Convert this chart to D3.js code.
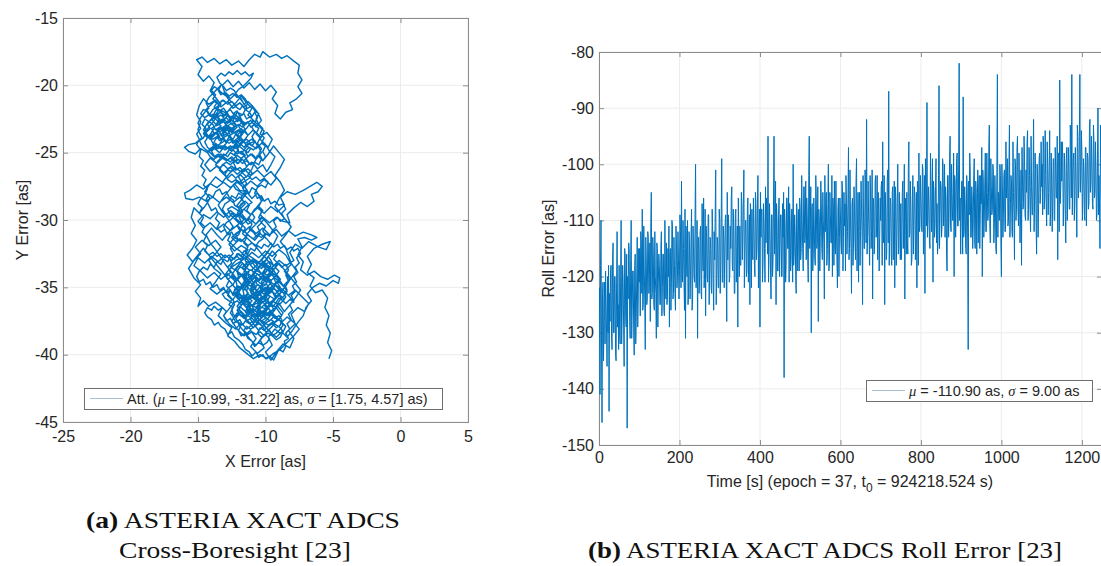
<!DOCTYPE html>
<html>
<head>
<meta charset="utf-8">
<script src="https://cdn.jsdelivr.net/npm/d3@7"></script>
<style>
  body { margin: 0; background: #fff; }
  svg { display: block; }
</style>
</head>
<body>
<svg id="fig" width="1101" height="566"></svg>
<script>
// ---------- Panel (a): cross-boresight attitude error trajectory [as] ----------
const walkSE = [[-5.3,-40.3],[-5.1,-39.7],[-5.4,-39.1],[-5.2,-38.4],[-5.5,-37.8],[-5.3,-37.1],[-5.6,-36.5],[-5.4,-35.8],[-5.8,-35.2],[-6.3,-35.4],[-6.7,-34.9],[-6.4,-34.3],[-6.9,-33.9],[-6.6,-33.3],[-6.9,-32.7],[-6.4,-32.1],[-5.8,-31.8],[-5.2,-31.6],[-5.5,-32.2],[-6.1,-32.0],[-6.8,-31.6],[-7.3,-32.1],[-7.8,-31.8],[-8.2,-32.4],[-7.9,-33.0],[-8.5,-33.4],[-9.0,-33.0],[-9.5,-33.5],[-9.2,-34.1],[-9.7,-34.6],[-10.2,-34.2],[-10.0,-33.6],[-10.5,-33.2],[-11.0,-33.7],[-10.7,-34.4],[-11.1,-34.9],[-10.8,-35.5],[-10.2,-35.1],[-9.7,-35.7],[-10.0,-36.3],[-9.6,-36.8],[-9.1,-36.4],[-8.7,-36.9],[-9.0,-37.4],[-8.5,-37.9],[-8.8,-38.5],[-9.3,-38.1],[-9.8,-38.7],[-9.5,-39.3],[-10.0,-39.8],[-9.6,-40.4],[-9.2,-39.8],[-8.7,-39.2],[-8.2,-39.5],[-7.9,-38.8],[-8.3,-38.2],[-7.8,-37.7],[-8.1,-37.0],[-7.6,-36.5],[-7.1,-36.8],[-6.8,-36.2],[-7.3,-35.7]];
const walkCore1 = [[-7.8,-35.2],[-8.3,-35.6],[-8.8,-35.1],[-9.3,-35.5],[-9.8,-35.0],[-10.3,-35.4],[-10.8,-35.9],[-11.3,-35.5],[-11.7,-36.1],[-11.2,-36.7],[-11.6,-37.3],[-12.1,-36.9],[-12.5,-37.5],[-12.1,-38.1],[-11.6,-38.6],[-11.1,-38.2],[-10.7,-38.8],[-11.1,-39.4],[-10.6,-39.9],[-10.1,-39.5],[-10.4,-38.9],[-9.9,-38.4],[-10.3,-37.8],[-10.8,-37.3],[-10.4,-36.7],[-9.9,-37.1],[-9.4,-36.6],[-9.8,-36.0],[-10.3,-35.7],[-10.8,-35.1],[-11.4,-34.7],[-11.8,-34.1],[-12.3,-34.5],[-12.8,-34.0],[-13.3,-34.4],[-13.8,-33.9],[-14.3,-34.3],[-14.8,-33.8],[-15.3,-33.4],[-15.0,-32.8],[-14.5,-33.2],[-14.0,-32.7],[-13.5,-33.1],[-13.0,-32.6],[-12.5,-33.0],[-12.0,-32.5],[-11.5,-32.9],[-11.0,-32.4],[-10.5,-32.8],[-10.0,-32.3],[-9.5,-32.7],[-9.0,-32.2],[-8.5,-32.6],[-8.1,-33.3],[-8.6,-33.8],[-8.2,-34.4],[-8.7,-34.9],[-9.2,-34.4],[-9.6,-34.0],[-10.1,-34.5],[-10.6,-34.0],[-11.0,-34.5]];
const walkCore2 = [[-10.7,-35.0],[-11.1,-35.4],[-10.6,-35.8],[-10.9,-36.3],[-10.4,-36.1],[-10.0,-35.6],[-9.6,-35.2],[-9.9,-34.8],[-10.4,-34.7],[-10.8,-34.3],[-11.3,-34.0],[-11.7,-33.5],[-11.3,-33.1],[-10.9,-33.6],[-10.4,-33.9],[-10.0,-34.3],[-9.5,-34.9],[-9.1,-35.4],[-8.6,-35.9],[-9.0,-36.3],[-9.5,-36.0],[-10.0,-36.6],[-10.5,-36.4],[-11.0,-36.9],[-11.4,-36.5],[-11.0,-36.0],[-11.5,-35.6],[-12.0,-35.9],[-12.4,-35.4],[-12.0,-34.9],[-11.6,-35.2],[-11.2,-34.6],[-11.6,-34.2],[-12.1,-33.8],[-12.6,-33.5],[-12.2,-33.0],[-11.7,-32.8],[-11.3,-32.2],[-11.8,-31.9],[-12.3,-32.3],[-12.7,-31.8],[-12.3,-31.3],[-11.8,-31.6],[-11.3,-31.1],[-10.8,-31.5],[-10.4,-31.0],[-9.9,-31.4],[-9.5,-31.9],[-9.9,-32.5],[-10.3,-33.0],[-9.8,-33.4],[-9.3,-33.9],[-8.9,-34.4],[-9.4,-34.8],[-9.9,-35.3],[-10.3,-35.9],[-10.7,-36.5],[-10.2,-37.0],[-9.7,-37.5],[-9.3,-37.1]];
const walkBottom = [[-8.8,-37.6],[-8.4,-37.2],[-7.9,-37.6],[-7.5,-38.1],[-7.9,-38.6],[-8.4,-39.1],[-8.9,-39.6],[-9.4,-39.9],[-9.9,-40.3],[-10.4,-40.0],[-10.9,-40.3],[-11.4,-39.9],[-11.9,-39.5],[-12.3,-39.0],[-12.8,-38.6],[-12.5,-38.0],[-13.0,-37.6],[-13.5,-37.1],[-13.2,-36.5],[-13.7,-36.1],[-14.2,-36.4],[-14.6,-36.0],[-15.0,-36.4],[-14.8,-35.8],[-15.2,-35.3],[-14.8,-34.8],[-15.3,-34.3],[-15.7,-33.6],[-15.3,-33.0],[-14.8,-32.5],[-15.2,-32.0],[-14.7,-31.5],[-14.2,-31.9],[-13.7,-31.5],[-13.3,-32.0],[-13.7,-32.5],[-14.2,-33.0],[-13.8,-33.6],[-13.3,-34.0],[-13.7,-34.6],[-14.1,-35.1],[-13.6,-35.5],[-13.1,-35.1],[-12.7,-35.6],[-12.3,-36.1],[-12.7,-36.6],[-13.1,-37.1],[-12.7,-37.7],[-12.2,-38.1],[-11.8,-37.6],[-11.4,-38.1],[-10.9,-37.7],[-10.5,-38.2],[-10.1,-37.8],[-9.7,-38.3],[-9.2,-38.7],[-8.8,-38.3],[-8.4,-38.7],[-8.0,-38.2],[-7.6,-37.6]];
const walkEast = [[-7.2,-37.1],[-7.0,-36.5],[-6.6,-36.0],[-6.9,-35.5],[-6.5,-35.0],[-6.0,-34.7],[-5.5,-34.9],[-5.0,-34.5],[-4.6,-34.7],[-4.5,-34.3],[-4.9,-34.1],[-5.4,-34.4],[-5.9,-34.2],[-6.4,-33.8],[-6.9,-34.1],[-7.4,-33.7],[-7.2,-33.1],[-7.6,-32.6],[-7.3,-32.0],[-7.6,-31.4],[-7.1,-31.3],[-6.6,-31.5],[-6.2,-31.3],[-6.6,-31.1],[-7.2,-30.9],[-7.8,-31.2],[-8.3,-30.8],[-8.8,-31.2],[-9.2,-30.7],[-9.7,-31.1],[-10.2,-30.6],[-10.7,-31.0],[-11.2,-30.5],[-11.6,-30.9],[-12.1,-30.4],[-12.6,-30.8],[-13.1,-30.3],[-13.6,-30.7],[-14.1,-30.2],[-14.6,-30.6],[-15.0,-30.1],[-14.6,-29.6],[-14.1,-29.9],[-13.6,-29.4],[-13.1,-29.8],[-12.6,-29.3],[-12.1,-29.7],[-11.6,-29.2],[-11.1,-29.6],[-10.6,-29.1],[-10.1,-29.5],[-9.6,-29.0],[-9.1,-29.4],[-8.6,-28.9],[-8.9,-28.3],[-8.4,-27.9],[-7.8,-28.1],[-7.2,-27.8],[-6.7,-27.5],[-6.2,-27.2]];
const walkMid = [[-5.8,-27.5],[-6.1,-27.9],[-6.6,-28.1],[-6.4,-28.6],[-6.9,-29.0],[-7.4,-28.7],[-7.9,-29.1],[-8.4,-29.6],[-8.2,-30.2],[-8.7,-30.1],[-9.2,-29.8],[-9.7,-30.2],[-10.2,-29.8],[-10.7,-30.3],[-11.2,-29.9],[-11.7,-30.3],[-12.2,-29.9],[-12.0,-29.3],[-11.5,-28.8],[-11.9,-28.3],[-12.4,-28.7],[-12.9,-28.3],[-13.4,-28.7],[-13.9,-28.3],[-14.4,-28.6],[-14.9,-28.3],[-15.4,-28.5],[-15.9,-28.4],[-16.0,-28.0],[-15.6,-27.8],[-15.1,-27.4],[-14.6,-27.7],[-14.1,-27.3],[-13.6,-27.6],[-13.1,-27.2],[-12.6,-27.6],[-12.1,-27.2],[-11.6,-27.6],[-11.1,-27.1],[-10.6,-27.5],[-10.1,-27.0],[-9.6,-27.4],[-9.2,-26.9],[-9.6,-26.4],[-10.1,-26.8],[-10.6,-26.3],[-11.1,-26.7],[-11.6,-26.2],[-12.1,-26.6],[-12.6,-26.1],[-13.1,-26.5],[-13.6,-26.0],[-14.1,-26.4],[-14.5,-25.9],[-14.1,-25.4],[-13.6,-25.8],[-13.1,-25.3],[-12.6,-25.7],[-12.1,-25.2],[-11.6,-25.6]];
const walkUpper1 = [[-11.1,-25.1],[-10.7,-25.5],[-10.3,-25.0],[-10.6,-24.4],[-11.0,-24.0],[-11.5,-24.3],[-11.9,-23.8],[-12.4,-24.2],[-12.8,-23.7],[-13.3,-24.0],[-13.7,-23.5],[-14.2,-23.8],[-14.6,-23.3],[-14.3,-22.8],[-13.8,-22.4],[-13.4,-22.8],[-12.9,-22.4],[-12.5,-22.9],[-12.0,-22.5],[-11.6,-23.0],[-11.1,-22.6],[-10.7,-23.1],[-10.3,-22.6],[-10.6,-22.0],[-11.0,-21.5],[-11.5,-21.8],[-11.9,-21.3],[-12.4,-21.7],[-12.8,-21.2],[-13.3,-21.6],[-13.7,-21.1],[-14.2,-21.4],[-14.6,-21.0],[-14.9,-21.5],[-15.1,-22.2],[-14.8,-22.7],[-15.0,-23.3],[-14.7,-23.9],[-15.2,-24.3],[-15.7,-24.4],[-16.0,-24.6],[-15.7,-24.9],[-15.2,-25.1],[-14.8,-24.7],[-14.3,-25.0],[-13.9,-24.6],[-13.4,-25.0],[-13.0,-24.5],[-12.5,-24.9],[-12.1,-24.4],[-11.6,-24.8],[-11.2,-24.3],[-10.7,-24.7],[-10.2,-24.2],[-9.8,-24.6],[-9.5,-24.0],[-9.9,-23.5],[-10.4,-23.8],[-10.9,-23.3],[-11.3,-23.7]];
const walkTop = [[-11.8,-23.2],[-12.2,-23.6],[-12.7,-23.2],[-13.1,-22.7],[-13.6,-23.0],[-14.0,-22.5],[-13.7,-21.9],[-13.3,-21.4],[-13.7,-20.9],[-14.1,-20.4],[-13.8,-19.8],[-14.2,-19.3],[-14.6,-19.7],[-15.0,-19.2],[-14.7,-18.6],[-15.1,-18.1],[-14.7,-17.9],[-14.3,-18.3],[-13.8,-18.0],[-13.4,-18.4],[-12.9,-18.1],[-12.5,-18.5],[-12.0,-18.2],[-11.6,-18.6],[-11.2,-18.1],[-10.8,-17.7],[-10.4,-17.9],[-10.2,-17.5],[-9.7,-17.9],[-9.2,-17.7],[-8.8,-18.0],[-8.4,-17.8],[-7.9,-18.2],[-7.5,-18.5],[-7.6,-19.1],[-7.3,-19.6],[-7.6,-20.1],[-7.3,-20.6],[-7.7,-21.0],[-8.2,-21.3],[-8.0,-21.8],[-8.5,-22.0],[-8.9,-22.5],[-9.3,-22.1],[-9.1,-21.5],[-9.5,-21.0],[-9.2,-20.5],[-9.6,-20.0],[-10.0,-20.4],[-10.4,-19.9],[-10.8,-20.3],[-11.2,-19.8],[-11.6,-20.2],[-12.0,-19.7],[-12.4,-20.1],[-12.8,-19.6],[-13.2,-20.0],[-13.0,-20.6],[-12.6,-21.0],[-12.2,-20.6]];
const walkUpper2 = [[-11.8,-21.1],[-11.4,-21.6],[-11.7,-22.2],[-12.1,-22.0],[-12.4,-22.6],[-12.1,-23.1],[-12.5,-23.5],[-12.9,-23.2],[-13.2,-23.8],[-12.9,-24.3],[-13.3,-24.7],[-13.7,-24.3],[-14.0,-24.9],[-13.7,-25.4],[-13.3,-25.1],[-12.9,-25.6],[-12.5,-25.3],[-12.1,-25.8],[-11.7,-25.5],[-11.4,-26.0],[-11.0,-25.7],[-10.6,-26.2],[-10.2,-25.9],[-9.9,-26.4],[-9.6,-25.9],[-9.3,-25.3],[-9.7,-24.9],[-10.0,-24.4],[-10.4,-24.0],[-10.1,-23.4],[-10.5,-23.0],[-10.9,-22.6],[-11.3,-22.2],[-11.0,-21.7],[-11.4,-21.3],[-11.8,-20.8],[-12.2,-21.3],[-12.6,-21.7],[-13.0,-22.2],[-13.4,-22.0],[-13.8,-22.6],[-14.2,-23.1],[-14.5,-23.6],[-14.1,-24.0],[-13.7,-23.6],[-13.4,-23.3],[-13.0,-23.0],[-12.6,-22.6],[-12.2,-22.2],[-11.8,-22.7],[-11.5,-23.3],[-11.9,-23.9],[-12.3,-24.4],[-12.0,-24.9],[-11.6,-25.2],[-11.2,-25.8],[-11.6,-26.3],[-12.0,-26.8],[-11.7,-27.3],[-11.3,-27.9]];
const walkDown = [[-11.7,-28.4],[-12.1,-28.9],[-11.8,-29.5],[-11.4,-30.0],[-11.0,-29.5],[-10.6,-29.0],[-10.2,-28.5],[-10.6,-28.0],[-11.0,-28.4],[-11.4,-27.9],[-11.9,-27.8],[-12.3,-27.3],[-12.7,-27.8],[-13.1,-28.3],[-13.5,-28.9],[-13.2,-29.4],[-12.8,-29.9],[-12.4,-30.5],[-12.8,-31.0],[-13.2,-31.5],[-13.6,-31.1],[-14.0,-30.6],[-14.4,-31.1],[-14.1,-31.7],[-13.7,-32.2],[-13.3,-32.8],[-12.9,-33.4],[-12.5,-33.9],[-12.1,-34.4],[-11.7,-34.9],[-11.3,-35.4],[-11.7,-35.9],[-12.1,-36.4],[-11.7,-37.0],[-11.3,-37.5],[-10.9,-38.0],[-10.5,-37.5],[-10.1,-37.0],[-9.7,-36.4],[-9.3,-35.9],[-8.9,-35.4],[-8.5,-34.9],[-8.1,-34.3],[-7.7,-33.8],[-8.1,-33.2],[-8.5,-32.1],[-8.9,-31.6],[-8.5,-31.1],[-8.1,-30.5],[-8.5,-30.0],[-8.9,-29.5],[-9.3,-29.0],[-9.0,-28.4],[-8.6,-27.8],[-8.9,-27.2],[-9.3,-26.7],[-8.9,-26.1],[-8.6,-25.5],[-9.0,-25.0],[-9.4,-24.5]];
const walkWest = [[-9.8,-25.1],[-10.2,-25.6],[-10.6,-25.2],[-11.0,-26.2],[-11.4,-26.8],[-11.8,-26.4],[-12.3,-26.1],[-12.8,-26.7],[-13.2,-27.2],[-13.7,-26.8],[-14.1,-27.3],[-14.5,-27.9],[-14.1,-28.4],[-14.5,-29.0],[-14.9,-29.5],[-15.3,-29.1],[-15.5,-29.8],[-15.2,-30.4],[-15.5,-31.0],[-15.1,-31.5],[-15.4,-32.1],[-15.8,-32.6],[-15.4,-33.1],[-15.0,-32.6],[-14.6,-32.1],[-14.2,-32.6],[-13.8,-33.1],[-13.4,-33.6],[-13.0,-34.1],[-12.6,-34.6],[-12.2,-35.1],[-11.8,-35.6],[-11.4,-36.1],[-11.0,-35.6],[-10.6,-35.2],[-10.2,-34.7],[-9.8,-34.2],[-9.4,-33.7],[-9.0,-33.2],[-8.6,-33.7],[-8.2,-34.2],[-7.8,-34.7],[-7.4,-35.2],[-7.8,-35.8],[-8.2,-36.3],[-8.6,-36.8],[-9.0,-36.2],[-9.4,-36.8],[-9.8,-37.3],[-10.2,-37.7],[-10.6,-37.2],[-11.0,-36.7],[-11.4,-37.2],[-11.8,-36.8],[-12.2,-37.3],[-11.9,-37.9],[-11.5,-38.4],[-11.1,-38.9],[-10.7,-39.3],[-10.3,-38.8]];
const walkCore3 = [[-9.9,-38.3],[-9.5,-37.9],[-9.1,-37.3],[-9.5,-36.9],[-9.9,-36.4],[-10.3,-36.0],[-10.7,-35.6],[-11.1,-35.1],[-10.8,-34.6],[-10.4,-34.3],[-10.0,-33.9],[-9.6,-33.4],[-9.9,-32.9],[-10.3,-32.5],[-10.7,-32.0],[-11.1,-31.6],[-11.5,-31.2],[-11.1,-30.7],[-10.7,-30.3],[-10.3,-29.8],[-9.9,-30.2],[-9.5,-30.7],[-9.1,-31.2],[-9.4,-31.8],[-9.8,-32.3],[-10.2,-32.8],[-10.6,-33.3],[-11.0,-33.0],[-11.4,-33.5],[-11.8,-33.1],[-12.2,-33.6],[-12.5,-34.1],[-12.1,-34.5],[-11.7,-34.0],[-11.3,-34.4],[-10.9,-34.9],[-10.5,-35.4],[-10.1,-35.9],[-9.7,-35.4],[-9.3,-34.9],[-9.0,-34.3],[-9.4,-34.0],[-9.8,-33.6],[-10.2,-33.2],[-10.6,-33.7],[-11.0,-34.2],[-11.4,-34.6],[-11.8,-35.0],[-12.2,-35.4],[-11.9,-36.0],[-11.5,-36.4],[-11.1,-36.9],[-10.7,-37.4],[-10.3,-36.9],[-9.9,-36.5],[-9.5,-36.0],[-9.1,-35.6],[-8.7,-35.2],[-8.3,-35.6],[-7.9,-36.1]];
const walkFine1 = [[-8.2,-35.9],[-8.5,-36.2],[-8.8,-35.9],[-9.0,-35.5],[-9.3,-35.7],[-9.5,-35.3],[-9.8,-35.5],[-10.0,-35.1],[-10.3,-35.3],[-10.4,-34.9],[-10.7,-34.7],[-10.6,-34.3],[-10.9,-34.1],[-11.1,-34.4],[-11.3,-34.1],[-11.2,-33.7],[-11.5,-33.5],[-11.4,-33.1],[-11.1,-33.3],[-10.8,-33.0],[-10.6,-33.4],[-10.3,-33.6],[-10.1,-33.3],[-9.8,-33.5],[-9.7,-33.9],[-9.9,-34.2],[-9.6,-34.5],[-9.4,-34.3],[-9.2,-34.7],[-9.4,-35.0],[-9.7,-35.2],[-9.9,-35.6],[-10.2,-35.8],[-10.4,-36.2],[-10.7,-36.0],[-10.9,-36.4],[-11.2,-36.2],[-11.4,-36.6],[-11.2,-37.0],[-10.9,-37.2],[-10.6,-36.9],[-10.3,-37.1],[-10.0,-36.8],[-9.8,-37.1],[-9.5,-36.9],[-9.3,-37.3],[-9.0,-37.1],[-8.8,-37.4],[-8.9,-37.8],[-9.2,-38.0],[-9.5,-37.7],[-9.8,-37.9],[-10.1,-38.2],[-10.4,-38.0],[-10.6,-38.4],[-10.3,-38.7],[-10.0,-38.5],[-9.7,-38.8],[-9.9,-39.1],[-10.2,-39.3]];
const walkFine2 = [[-10.5,-39.1],[-10.8,-39.4],[-11.0,-39.0],[-11.3,-38.8],[-11.5,-38.4],[-11.8,-38.6],[-12.0,-38.2],[-11.8,-37.8],[-12.1,-37.5],[-12.4,-37.7],[-12.6,-37.3],[-12.9,-37.5],[-13.1,-37.1],[-12.9,-36.8],[-13.2,-36.5],[-13.5,-36.7],[-13.8,-36.4],[-14.0,-36.7],[-14.3,-36.5],[-14.5,-36.9],[-14.3,-37.2],[-14.0,-37.4],[-13.8,-37.8],[-13.5,-37.6],[-13.3,-37.9],[-13.0,-38.1],[-12.8,-38.5],[-12.5,-38.3],[-12.3,-38.7],[-12.0,-38.9],[-11.7,-39.2],[-11.5,-39.6],[-11.2,-39.8],[-11.0,-40.1],[-10.7,-39.8],[-10.5,-40.2],[-10.2,-40.0],[-10.0,-40.3],[-9.7,-40.1],[-9.4,-40.4],[-9.2,-40.0],[-9.0,-39.6],[-8.7,-39.8],[-8.5,-39.4],[-8.6,-39.0],[-8.3,-38.8],[-8.5,-38.4],[-8.2,-38.1],[-8.4,-37.7],[-8.1,-37.4],[-8.3,-37.0],[-8.0,-36.7],[-8.2,-36.3],[-7.9,-36.0],[-8.1,-35.6],[-7.8,-35.3],[-8.0,-34.9],[-7.7,-34.6],[-7.9,-34.2],[-7.6,-33.9]];
const walkFine3 = [[-7.8,-33.5],[-7.5,-33.2],[-7.7,-32.8],[-7.4,-32.5],[-7.6,-32.1],[-7.9,-32.3],[-8.1,-32.0],[-8.4,-32.2],[-8.6,-31.9],[-8.9,-32.1],[-9.1,-31.8],[-9.4,-32.0],[-9.6,-31.7],[-9.8,-32.0],[-10.1,-31.8],[-10.3,-32.1],[-10.6,-31.9],[-10.8,-32.3],[-11.1,-32.1],[-11.3,-32.5],[-11.6,-32.3],[-11.8,-32.7],[-12.1,-32.5],[-12.3,-32.9],[-12.6,-32.7],[-12.8,-33.1],[-13.1,-32.9],[-13.3,-33.3],[-13.6,-33.1],[-13.8,-33.5],[-14.1,-33.3],[-14.3,-33.7],[-14.6,-33.5],[-14.9,-33.8],[-15.1,-34.2],[-14.9,-34.6],[-14.6,-34.4],[-14.4,-34.8],[-14.1,-34.6],[-13.9,-35.0],[-13.6,-34.8],[-13.4,-35.2],[-13.1,-35.0],[-12.9,-35.4],[-12.6,-35.2],[-12.4,-35.6],[-12.1,-35.4],[-11.9,-35.8],[-11.6,-35.6],[-11.4,-35.9],[-11.1,-35.7],[-10.9,-35.4],[-10.6,-35.6],[-10.4,-35.3],[-10.1,-35.5],[-9.9,-35.2],[-9.6,-35.4],[-9.4,-35.1],[-9.1,-35.3],[-8.9,-35.0]];
const walkFine4 = [[-9.1,-34.7],[-8.9,-34.4],[-9.2,-34.1],[-9.0,-33.8],[-9.3,-33.5],[-9.1,-33.2],[-9.4,-32.9],[-9.2,-32.6],[-9.5,-32.3],[-9.7,-32.6],[-9.9,-32.9],[-10.1,-33.2],[-10.0,-33.6],[-10.2,-33.9],[-10.1,-34.3],[-10.3,-34.6],[-10.2,-35.0],[-10.4,-35.3],[-10.3,-35.7],[-10.5,-36.0],[-10.4,-36.4],[-10.6,-36.7],[-10.5,-37.1],[-10.7,-37.4],[-10.9,-37.7],[-11.1,-37.4],[-11.0,-37.0],[-11.2,-36.7],[-11.1,-36.3],[-11.3,-36.0],[-11.2,-35.6],[-11.4,-35.3],[-11.3,-34.9],[-11.5,-34.6],[-11.4,-34.2],[-11.6,-33.9],[-11.5,-33.5],[-11.7,-33.2],[-11.9,-33.5],[-12.1,-33.8],[-12.0,-34.2],[-12.2,-34.5],[-12.1,-34.9],[-12.3,-35.2],[-12.2,-35.6],[-12.4,-35.9],[-12.3,-36.3],[-12.5,-36.6],[-12.4,-37.0],[-12.2,-37.2],[-12.0,-36.9],[-11.9,-36.5],[-11.7,-36.2],[-11.8,-35.8],[-11.6,-35.5],[-11.7,-35.1],[-11.5,-34.8],[-11.6,-34.4],[-11.4,-34.1],[-11.5,-33.7]];
const walkFine5 = [[-11.3,-33.4],[-11.5,-33.0],[-11.3,-32.7],[-11.5,-32.3],[-11.3,-32.0],[-11.6,-31.7],[-11.4,-31.3],[-11.7,-31.0],[-11.5,-30.6],[-11.8,-30.3],[-11.6,-29.9],[-11.9,-29.6],[-12.2,-29.8],[-12.5,-29.5],[-12.7,-29.8],[-13.0,-29.5],[-13.2,-29.2],[-13.0,-28.8],[-12.7,-28.6],[-12.5,-28.2],[-12.2,-28.4],[-12.0,-28.0],[-11.7,-28.2],[-11.5,-27.8],[-11.2,-28.0],[-11.0,-27.6],[-10.7,-27.8],[-10.5,-28.2],[-10.3,-28.6],[-10.5,-29.0],[-10.3,-29.4],[-10.5,-29.8],[-10.3,-30.2],[-10.6,-30.5],[-10.4,-30.9],[-10.7,-31.2],[-10.9,-30.9],[-11.2,-30.7],[-11.0,-30.3],[-11.3,-30.0],[-11.1,-29.6],[-11.4,-29.3],[-11.2,-28.9],[-11.5,-28.6],[-11.8,-28.8],[-12.0,-29.1],[-12.3,-28.9],[-12.4,-28.5],[-12.7,-28.3],[-12.9,-27.9],[-13.2,-28.1],[-13.4,-27.7],[-13.7,-27.9],[-13.9,-28.3],[-14.2,-28.1],[-14.4,-28.5],[-14.2,-28.9],[-14.0,-29.3],[-13.7,-29.1],[-13.5,-29.5]];
const walkFine6 = [[-13.7,-29.9],[-13.4,-30.2],[-13.6,-30.6],[-13.3,-30.9],[-13.0,-30.7],[-12.8,-31.1],[-12.5,-30.9],[-12.3,-31.3],[-12.0,-31.1],[-11.8,-30.7],[-11.5,-30.9],[-11.2,-31.2],[-10.9,-31.4],[-10.6,-31.1],[-10.3,-31.3],[-10.0,-31.0],[-9.7,-31.2],[-9.5,-30.8],[-9.2,-30.5],[-9.4,-30.1],[-9.1,-29.8],[-8.9,-30.1],[-8.6,-29.9],[-8.8,-29.5],[-8.5,-29.2],[-8.7,-28.8],[-9.0,-28.9],[-9.3,-28.6],[-9.6,-28.8],[-9.8,-28.4],[-10.1,-28.6],[-10.3,-28.2],[-10.6,-28.4],[-10.8,-28.0],[-10.6,-27.6],[-10.3,-27.4],[-10.0,-27.6],[-9.8,-27.2],[-10.1,-26.9],[-10.4,-27.1],[-10.7,-26.8],[-11.0,-27.0],[-11.3,-26.7],[-11.6,-26.9],[-11.9,-26.6],[-12.2,-26.9],[-12.5,-26.6],[-12.8,-26.9],[-13.1,-26.6],[-13.4,-26.3],[-13.2,-25.9],[-12.9,-25.7],[-12.6,-25.9],[-12.3,-25.6],[-12.0,-25.8],[-11.8,-25.4],[-11.5,-25.2],[-11.8,-24.9],[-12.1,-25.1],[-12.4,-24.8]];
const walkFine7 = [[-12.7,-24.6],[-13.0,-24.8],[-13.3,-24.5],[-13.6,-24.7],[-13.9,-24.4],[-13.7,-24.0],[-13.4,-23.8],[-13.6,-23.4],[-13.3,-23.2],[-13.0,-23.4],[-12.7,-23.1],[-12.4,-23.3],[-12.2,-22.9],[-12.5,-22.6],[-12.8,-22.8],[-13.1,-22.5],[-13.4,-22.7],[-13.6,-22.3],[-13.9,-22.5],[-14.1,-22.1],[-13.9,-21.8],[-13.6,-21.6],[-13.4,-21.9],[-13.1,-21.7],[-12.9,-22.0],[-12.6,-21.8],[-12.4,-22.1],[-12.1,-21.9],[-11.9,-22.3],[-11.6,-22.1],[-11.4,-22.5],[-11.1,-22.3],[-10.9,-22.7],[-11.2,-22.9],[-11.4,-23.2],[-11.7,-23.4],[-11.9,-23.8],[-12.2,-23.6],[-12.4,-24.0],[-12.7,-23.8],[-12.9,-24.2],[-13.2,-24.0],[-13.4,-24.4],[-13.7,-24.6],[-14.0,-24.9],[-14.3,-24.6],[-14.5,-24.2],[-14.3,-23.9],[-14.6,-23.6],[-14.4,-23.2],[-14.7,-22.9],[-14.5,-22.5],[-14.2,-22.7],[-13.9,-22.9],[-13.7,-23.3],[-13.4,-23.1],[-13.1,-23.5],[-12.8,-23.3],[-12.6,-23.7],[-12.3,-23.5]];
const walkFine8 = [[-12.0,-23.9],[-11.7,-24.2],[-11.4,-24.0],[-11.1,-24.3],[-10.8,-24.1],[-10.6,-24.5],[-10.9,-24.8],[-11.2,-24.6],[-11.5,-24.9],[-11.3,-25.3],[-11.0,-25.1],[-10.7,-25.4],[-10.4,-25.2],[-10.2,-25.6],[-10.0,-25.3],[-10.2,-24.9],[-10.0,-24.5],[-10.3,-24.3],[-10.1,-23.9],[-10.4,-23.6],[-10.2,-23.2],[-10.5,-22.9],[-10.7,-22.5],[-10.5,-22.1],[-10.8,-21.9],[-11.0,-21.5],[-11.3,-21.2],[-11.6,-21.4],[-11.8,-21.0],[-12.1,-20.8],[-12.3,-20.4],[-12.6,-20.2],[-12.9,-20.4],[-13.1,-20.1],[-13.4,-19.8],[-13.6,-19.4],[-13.3,-19.1],[-13.0,-19.3],[-12.7,-19.0],[-12.4,-19.2],[-12.1,-18.9],[-11.8,-19.2],[-11.5,-19.0],[-11.2,-19.3],[-10.9,-19.1],[-11.1,-19.5],[-11.4,-19.8],[-11.7,-20.1],[-12.0,-20.3],[-12.3,-20.7],[-12.6,-21.0],[-12.9,-21.3],[-13.2,-21.1],[-13.5,-21.4],[-13.8,-21.2],[-14.1,-21.5],[-14.4,-21.8],[-14.2,-22.2],[-14.5,-22.4],[-14.8,-22.1]];
const walkFine9 = [[-14.6,-21.8],[-14.3,-21.9],[-14.1,-22.3],[-13.8,-22.1],[-13.6,-22.4],[-13.3,-22.2],[-13.0,-22.5],[-12.8,-22.2],[-12.5,-22.4],[-12.3,-22.1],[-12.0,-22.4],[-11.8,-22.6],[-11.5,-22.8],[-11.7,-23.1],[-12.0,-22.9],[-12.3,-23.1],[-12.5,-22.8],[-12.8,-23.0],[-13.0,-23.3],[-13.3,-23.1],[-13.5,-23.4],[-13.8,-23.2],[-14.0,-23.5],[-14.2,-23.8],[-13.9,-24.0],[-13.6,-23.8],[-13.4,-24.1],[-13.1,-23.9],[-12.9,-24.2],[-12.6,-24.0],[-12.4,-24.3],[-12.1,-24.1],[-11.9,-24.4],[-11.6,-24.2],[-11.4,-24.5],[-11.1,-24.7],[-11.3,-25.0],[-11.6,-24.8],[-11.8,-25.1],[-12.1,-24.9],[-12.3,-25.2],[-12.6,-25.0],[-12.8,-25.3],[-13.1,-25.1],[-13.3,-25.4],[-13.6,-25.2],[-13.8,-25.5],[-14.1,-25.3],[-14.3,-25.0],[-14.1,-24.7],[-13.8,-24.5],[-13.5,-24.7],[-13.2,-24.5],[-12.9,-24.7],[-12.6,-24.5],[-12.3,-24.7],[-12.0,-24.5],[-11.8,-24.2],[-11.5,-24.0],[-11.3,-23.7]];
const walkFine10 = [[-11.5,-23.4],[-11.8,-23.6],[-12.0,-23.3],[-12.3,-23.5],[-12.6,-23.3],[-12.8,-23.6],[-13.1,-23.4],[-13.3,-23.7],[-13.5,-23.3],[-13.3,-23.0],[-13.6,-22.8],[-13.4,-22.5],[-13.7,-22.2],[-13.5,-21.9],[-13.8,-21.6],[-13.6,-21.3],[-13.9,-21.0],[-13.7,-20.7],[-14.0,-20.4],[-13.8,-20.1],[-13.5,-20.3],[-13.2,-20.6],[-12.9,-20.8],[-12.7,-21.1],[-12.4,-21.3],[-12.2,-21.6],[-11.9,-21.8],[-11.7,-21.5],[-11.5,-21.8],[-11.2,-22.0],[-11.0,-22.3],[-10.8,-22.0],[-10.6,-22.4],[-10.8,-22.8],[-11.0,-23.1],[-10.8,-23.5],[-11.0,-23.8],[-10.8,-24.2],[-11.0,-24.5],[-11.3,-24.3],[-11.6,-24.6],[-11.8,-24.4],[-12.1,-24.7],[-12.4,-24.5],[-12.7,-24.8],[-12.9,-25.1],[-13.2,-25.3],[-13.5,-25.6],[-13.7,-25.9],[-13.4,-26.1],[-13.1,-25.9],[-12.8,-26.2],[-12.5,-26.0],[-12.2,-26.3],[-11.9,-26.1],[-11.6,-26.4],[-11.3,-26.2],[-11.0,-26.5],[-11.2,-26.9],[-11.5,-27.1]];
const walkFine11 = [[-11.8,-27.3],[-12.1,-27.1],[-12.4,-27.4],[-12.2,-27.7],[-11.9,-27.9],[-11.6,-28.1],[-11.3,-28.4],[-11.0,-28.7],[-11.3,-28.9],[-11.6,-29.2],[-11.9,-29.4],[-12.2,-29.2],[-12.5,-29.0],[-12.8,-29.2],[-12.6,-29.6],[-12.3,-29.9],[-12.0,-30.2],[-11.7,-30.4],[-11.9,-30.8],[-12.2,-31.0],[-12.5,-31.3],[-12.2,-31.6],[-11.9,-31.4],[-11.6,-31.6],[-11.3,-31.9],[-11.0,-31.7],[-10.7,-31.9],[-10.5,-31.6],[-10.2,-31.4],[-10.0,-31.1],[-10.2,-30.8],[-10.0,-30.5],[-10.3,-30.2],[-10.1,-29.9],[-10.4,-29.6],[-10.2,-29.3],[-10.5,-29.0],[-10.8,-29.2],[-11.0,-29.5],[-10.8,-29.8],[-11.0,-30.1],[-11.3,-30.3],[-11.5,-30.0],[-11.8,-29.8],[-12.0,-29.5],[-12.3,-29.7],[-12.6,-30.0],[-12.9,-30.2],[-13.1,-30.5],[-12.9,-30.9],[-12.6,-31.1],[-12.8,-31.5],[-12.5,-31.8],[-12.2,-32.1],[-11.9,-32.3],[-11.6,-32.6],[-11.3,-32.8],[-11.0,-33.1],[-10.8,-33.4],[-10.5,-33.7]];
const walkFine12 = [[-10.3,-34.0],[-10.0,-34.2],[-9.8,-34.5],[-10.0,-34.8],[-10.3,-35.0],[-10.6,-34.8],[-10.8,-35.1],[-11.1,-35.3],[-11.3,-35.0],[-11.6,-34.8],[-11.8,-35.1],[-12.0,-35.4],[-11.8,-35.7],[-11.5,-35.9],[-11.3,-36.2],[-11.0,-36.4],[-10.8,-36.1],[-10.5,-35.9],[-10.2,-36.1],[-9.9,-35.9],[-9.7,-36.2],[-9.4,-36.4],[-9.2,-36.1],[-9.0,-35.8],[-8.7,-36.0],[-8.5,-35.7],[-8.7,-35.4],[-9.0,-35.2],[-9.2,-34.9],[-9.5,-34.7],[-9.7,-34.4],[-10.0,-34.6],[-10.2,-34.3],[-10.5,-34.5],[-10.7,-34.2],[-11.0,-34.4],[-11.2,-34.7],[-11.5,-34.5],[-11.7,-34.2],[-12.0,-34.0],[-12.2,-33.7],[-12.0,-33.4],[-11.7,-33.6],[-11.4,-33.9],[-11.1,-33.7],[-10.8,-33.9],[-10.5,-34.1],[-10.2,-33.9],[-9.9,-34.1],[-9.6,-33.9],[-9.3,-34.1],[-9.0,-34.4],[-8.8,-34.7],[-8.6,-35.0],[-8.4,-35.3],[-8.6,-35.6],[-8.9,-35.9],[-9.1,-36.2],[-9.3,-36.6],[-9.6,-36.8]];
const walkFine13 = [[-9.9,-37.0],[-10.1,-36.7],[-10.4,-36.9],[-10.6,-37.2],[-10.9,-37.0],[-11.1,-37.3],[-11.4,-37.5],[-11.6,-37.2],[-11.9,-37.0],[-12.1,-36.7],[-11.9,-36.4],[-11.6,-36.7],[-11.3,-36.9],[-11.0,-36.6],[-10.7,-36.8],[-10.4,-36.6],[-10.1,-36.3],[-9.8,-36.5],[-9.5,-36.3],[-9.2,-36.5],[-9.0,-36.8],[-8.8,-37.1],[-9.0,-37.4],[-9.3,-37.6],[-9.6,-37.4],[-9.9,-37.6],[-10.2,-37.9],[-10.5,-37.7],[-10.8,-37.9],[-11.1,-38.1],[-11.4,-37.9],[-11.6,-38.2],[-11.3,-38.5],[-11.0,-38.3],[-10.7,-38.5],[-10.4,-38.3],[-10.1,-38.6],[-9.8,-38.4],[-9.5,-38.6],[-9.2,-38.4],[-8.9,-38.1],[-8.7,-37.8],[-8.9,-37.5],[-9.2,-37.3],[-9.5,-37.1],[-9.7,-36.8],[-10.0,-37.0],[-10.3,-37.3],[-10.5,-37.0],[-10.8,-36.7],[-11.0,-36.4],[-11.2,-36.1],[-11.4,-35.8],[-11.1,-35.6],[-10.8,-35.8],[-10.5,-35.5],[-10.2,-35.7],[-9.9,-35.5],[-9.6,-35.7],[-9.3,-35.9]];
const walkFine14 = [[-9.0,-35.6],[-8.8,-35.3],[-9.0,-35.0],[-9.3,-34.8],[-9.1,-34.5],[-9.4,-34.2],[-9.6,-33.9],[-9.9,-33.7],[-10.1,-33.4],[-10.4,-33.2],[-10.7,-33.0],[-11.0,-32.8],[-11.3,-32.6],[-11.6,-32.9],[-11.9,-33.1],[-12.2,-33.3],[-12.5,-33.5],[-12.8,-33.8],[-13.0,-34.1],[-12.8,-34.4],[-12.5,-34.2],[-12.2,-34.4],[-12.4,-34.8],[-12.7,-35.0],[-12.9,-35.3],[-13.2,-35.5],[-13.0,-35.8],[-12.7,-36.0],[-12.4,-36.2],[-12.1,-36.0],[-11.8,-36.3],[-11.5,-36.1],[-11.2,-35.9],[-10.9,-35.7],[-10.6,-35.4],[-10.3,-35.2],[-10.0,-35.0],[-9.7,-35.2],[-9.4,-35.4],[-9.2,-35.7],[-9.5,-36.0],[-9.8,-36.2],[-10.1,-36.0],[-10.4,-36.3],[-10.7,-36.5],[-11.0,-36.3],[-11.3,-36.5],[-11.5,-36.8],[-11.3,-37.1],[-11.0,-37.3],[-10.7,-37.6],[-10.4,-37.4],[-10.1,-37.6],[-9.8,-37.8],[-9.5,-37.6],[-9.2,-37.8],[-8.9,-38.0],[-8.7,-38.3],[-8.9,-38.7],[-9.2,-38.9]];
const walkFine15 = [[-9.5,-38.6],[-9.7,-38.2],[-10.0,-38.0],[-10.2,-37.6],[-10.5,-37.4],[-10.7,-37.0],[-11.0,-36.8],[-11.2,-36.4],[-11.5,-36.2],[-11.7,-35.8],[-11.9,-35.5],[-12.1,-35.1],[-11.8,-34.9],[-11.6,-34.6],[-11.3,-34.3],[-11.0,-34.1],[-10.8,-33.8],[-10.5,-33.5],[-10.3,-33.2],[-10.0,-33.0],[-9.8,-32.7],[-9.6,-33.0],[-9.4,-33.4],[-9.7,-33.7],[-9.5,-34.0],[-9.8,-34.3],[-9.6,-34.7],[-9.9,-35.0],[-9.7,-35.3],[-10.0,-35.6],[-9.8,-36.0],[-10.1,-36.3],[-9.9,-36.6],[-10.2,-36.9],[-10.0,-37.3],[-10.3,-37.5],[-10.6,-37.3],[-10.9,-37.5],[-11.2,-37.7],[-11.5,-37.5],[-11.7,-37.8],[-11.9,-37.4],[-12.2,-37.6],[-12.4,-37.2],[-12.6,-36.9],[-12.4,-36.5],[-12.7,-36.3],[-12.5,-35.9],[-12.8,-35.6],[-12.6,-35.2],[-12.9,-34.9],[-12.7,-34.5],[-12.9,-34.2],[-12.6,-33.9],[-12.8,-33.5],[-12.5,-33.2],[-12.7,-32.8],[-12.4,-32.5],[-12.6,-32.1],[-12.3,-31.8]];
const walkFine16 = [[-12.0,-31.5],[-12.2,-31.1],[-11.9,-30.8],[-12.1,-30.4],[-11.8,-30.1],[-12.0,-29.7],[-11.7,-29.4],[-11.9,-29.0],[-11.6,-28.7],[-11.8,-28.3],[-11.5,-28.0],[-11.7,-27.6],[-11.4,-27.3],[-11.6,-26.9],[-11.9,-27.2],[-12.2,-27.0],[-12.5,-27.2],[-12.8,-27.0],[-13.0,-26.6],[-12.8,-26.3],[-12.5,-26.4],[-12.2,-26.1],[-12.4,-25.7],[-12.1,-25.5],[-12.3,-25.1],[-12.0,-24.8],[-12.2,-24.4],[-11.9,-24.1],[-12.1,-23.7],[-11.8,-23.4],[-12.0,-23.0],[-11.7,-22.7],[-11.9,-22.3],[-12.2,-22.5],[-12.5,-22.3],[-12.7,-22.6],[-13.0,-22.8],[-13.2,-22.5],[-13.5,-22.7],[-13.7,-23.0],[-14.0,-23.2],[-13.8,-23.6],[-14.1,-23.9],[-13.9,-24.3],[-13.6,-24.5],[-13.3,-24.3],[-13.0,-24.1],[-12.7,-24.3],[-12.4,-24.1],[-12.6,-23.8],[-12.9,-23.6],[-13.2,-23.8],[-13.4,-23.5],[-13.1,-23.2],[-12.8,-23.0],[-12.5,-23.2],[-12.2,-23.0],[-12.4,-22.7],[-12.7,-22.4],[-12.9,-22.1]];
const walkFine17 = [[-13.2,-21.9],[-13.5,-22.1],[-13.8,-22.3],[-14.1,-22.6],[-14.3,-22.9],[-14.1,-23.2],[-14.4,-23.5],[-14.6,-23.9],[-14.9,-24.1],[-14.7,-24.5],[-14.4,-24.8],[-14.1,-25.0],[-13.8,-25.3],[-13.5,-25.1],[-13.2,-25.4],[-12.9,-25.6],[-12.6,-25.4],[-12.3,-25.7],[-12.0,-25.5],[-11.7,-25.8],[-11.4,-25.6],[-11.1,-25.9],[-10.8,-25.7],[-10.5,-25.9],[-10.3,-25.5],[-10.5,-25.1],[-10.3,-24.7],[-10.6,-24.3],[-10.4,-23.9],[-10.7,-23.6],[-10.5,-23.2],[-10.8,-22.9],[-11.1,-23.1],[-11.3,-22.7],[-11.6,-22.9],[-11.8,-22.5],[-12.1,-22.7],[-12.3,-22.3],[-12.6,-22.5],[-12.8,-22.1],[-13.1,-22.3],[-13.3,-21.9],[-13.6,-21.7],[-13.4,-21.3],[-13.1,-21.1],[-12.8,-21.4],[-12.5,-21.2],[-12.2,-21.5],[-11.9,-21.3],[-11.6,-21.6],[-11.3,-21.4],[-11.5,-21.0],[-11.8,-20.7],[-12.1,-20.9],[-12.4,-20.6],[-12.7,-20.8],[-13.0,-20.5],[-13.3,-20.7],[-13.5,-20.4],[-13.3,-20.0]];
const walkFine18 = [[-13.6,-20.3],[-13.9,-20.6],[-14.2,-20.9],[-14.4,-21.3],[-14.2,-21.7],[-14.5,-22.0],[-14.8,-22.4],[-15.0,-22.8],[-14.8,-23.2],[-15.1,-23.6],[-14.9,-24.0],[-15.1,-24.4],[-14.8,-24.8],[-14.9,-25.3],[-14.6,-25.6],[-14.8,-26.0],[-14.5,-26.3],[-14.7,-26.7],[-14.4,-27.0],[-14.6,-27.4],[-14.3,-27.7],[-14.5,-28.1],[-14.8,-28.4],[-15.0,-28.8],[-14.7,-29.1],[-14.9,-29.5],[-14.6,-29.8],[-14.8,-30.2],[-14.5,-30.5],[-14.7,-30.9],[-14.4,-31.2],[-14.6,-31.6],[-14.3,-31.9],[-14.5,-32.3],[-14.2,-32.6],[-13.9,-32.4],[-13.6,-32.7],[-13.3,-32.5],[-13.0,-32.8],[-12.7,-32.6],[-12.4,-32.9],[-12.1,-32.7],[-11.8,-33.0],[-11.5,-32.8],[-11.2,-33.1],[-10.9,-32.9],[-10.6,-33.2],[-10.3,-33.0],[-10.0,-33.3],[-9.7,-33.1],[-9.4,-33.4],[-9.1,-33.2],[-8.8,-33.5],[-8.5,-33.3],[-8.3,-33.7],[-8.5,-34.1],[-8.3,-34.5],[-8.6,-34.8],[-8.4,-35.2],[-8.7,-35.5]];

const xTicksA = [-25, -20, -15, -10, -5, 0, 5];
const yTicksA = [-45, -40, -35, -30, -25, -20, -15];

// ---------- Panel (b): roll error time history [as], one sample every 1.25 s ----------
const rollStep = 1.25;
const rollError = [
  -127,-122,-141,-118,-110,-132,-146,-123,-121,-135,-128,-121,-132,-119,-124,-130,-136,-120,-130,-118,-144,-123,-128,-119,-118,-131,-133,-117,-114,-130,-130,-120,-120,-134,-135,-121,-112,-129,-125,-133,
  -118,-130,-132,-120,-110,-132,-127,-118,-121,-129,-136,-115,-116,-127,-129,-116,-147,-120,-124,-114,-115,-128,-131,-117,-110,-131,-126,-119,-119,-130,-134,-118,-116,-132,-128,-120,-113,-129,-124,-115,
  -121,-115,-127,-112,-114,-123,-108,-126,-125,-111,-119,-124,-133,-113,-117,-125,-124,-112,-113,-123,-122,-114,-128,-111,-105,-124,-123,-113,-116,-125,-126,-112,-120,-123,-131,-114,-115,-129,-121,-116,
  -118,-125,-125,-115,-112,-127,-122,-116,-116,-126,-127,-110,-119,-124,-114,-125,-124,-115,-120,-111,-129,-116,-115,-126,-121,-110,-111,-124,-123,-113,-118,-123,-126,-111,-114,-122,-120,-112,-117,-124,
  -119,-109,-112,-122,-103,-120,-121,-110,-115,-121,-126,-108,-131,-111,-117,-120,-110,-125,-123,-112,-114,-124,-120,-113,-108,-126,-125,-111,-116,-120,-121,-109,-100,-122,-119,-110,-131,-113,-113,-123,
  -120,-112,-111,-123,-124,-107,-116,-119,-106,-122,-119,-108,-127,-111,-113,-120,-121,-109,-109,-125,-118,-113,-115,-122,-123,-108,-112,-121,-126,-112,-117,-109,-101,-125,-120,-113,-114,-122,-122,-108,
  -110,-123,-118,-109,-99,-121,-121,-111,-113,-122,-116,-110,-109,-120,-128,-105,-117,-109,-111,-121,-120,-111,-115,-106,-104,-118,-119,-108,-112,-123,-123,-109,-108,-121,-117,-111,-129,-106,-113,-120,
  -111,-118,-118,-105,-107,-117,-113,-107,-101,-122,-116,-110,-110,-120,-119,-108,-106,-121,-114,-109,-125,-107,-112,-122,-108,-116,-117,-106,-111,-118,-120,-105,-107,-117,-115,-107,-102,-122,-113,-108,
  -129,-105,-113,-108,-108,-121,-118,-107,-110,-115,-121,-104,-114,-106,-107,-116,-95,-121,-116,-107,-112,-119,-124,-109,-109,-120,-117,-106,-95,-116,-113,-103,-125,-107,-110,-119,-119,-109,-106,-120,
  -114,-109,-109,-120,-120,-107,-113,-105,-138,-108,-111,-121,-118,-106,-106,-115,-115,-104,-121,-107,-110,-119,-117,-108,-108,-121,-100,-118,-116,-109,-112,-120,-123,-107,-109,-119,-114,-108,-119,-106,
  -108,-117,-115,-102,-110,-115,-119,-104,-104,-114,-113,-103,-117,-106,-109,-117,-121,-102,-95,-115,-112,-104,-130,-108,-107,-119,-116,-106,-111,-117,-118,-102,-106,-115,-114,-104,-128,-108,-110,-119,
  -113,-103,-107,-115,-117,-105,-110,-114,-124,-102,-112,-106,-105,-118,-115,-107,-100,-119,-118,-105,-109,-114,-114,-102,-120,-106,-108,-118,-103,-115,-116,-103,-111,-117,-122,-108,-106,-120,-113,-106,
  -109,-114,-116,-103,-104,-119,-113,-105,-111,-107,-119,-102,-107,-116,-112,-106,-97,-117,-115,-101,-110,-115,-123,-107,-106,-118,-114,-104,-108,-114,-117,-103,-99,-119,-111,-105,-121,-107,-105,-118,
  -112,-103,-108,-113,-125,-102,-110,-115,-115,-101,-104,-114,-92,-116,-113,-103,-109,-113,-118,-102,-106,-115,-112,-101,-124,-106,-107,-116,-114,-103,-102,-113,-111,-102,-117,-105,-108,-119,-113,-106,
  -110,-104,-103,-118,-96,-112,-114,-102,-125,-105,-108,-117,-116,-103,-101,-114,-87,-118,-112,-106,-107,-116,-118,-105,-104,-117,-111,-103,-122,-104,-106,-118,-113,-106,-100,-116,-115,-105,-109,-117,
  -107,-117,-114,-105,-103,-115,-111,-100,-124,-106,-109,-116,-105,-114,-116,-101,-96,-113,-112,-103,-108,-118,-117,-106,-102,-116,-110,-104,-106,-117,-113,-105,-122,-103,-104,-118,-98,-112,-111,-102,
  -106,-110,-112,-100,-101,-116,-109,-102,-123,-99,-104,-111,-89,-113,-110,-104,-107,-114,-115,-98,-103,-112,-108,-99,-121,-103,-105,-113,-111,-104,-99,-114,-107,-116,-114,-102,-86,-115,-109,-103,
  -104,-113,-111,-99,-100,-111,-108,-100,-113,-104,-106,-116,-119,-102,-102,-113,-109,-99,-95,-111,-112,-100,-105,-110,-110,-98,-120,-102,-103,-113,-108,-99,-98,-111,-111,-100,-82,-110,-106,-116,
  -110,-103,-103,-116,-88,-113,-112,-104,-107,-115,-116,-102,-104,-114,-133,-103,-109,-98,-101,-113,-113,-104,-106,-115,-111,-102,-99,-114,-115,-103,-105,-116,-108,-101,-114,-104,-102,-115,-109,-102,
  -107,-97,-120,-101,-103,-113,-110,-103,-98,-112,-112,-98,-105,-110,-109,-97,-93,-111,-114,-99,-104,-109,-108,-100,-101,-114,-111,-102,-106,-115,-116,-101,-84,-113,-105,-109,-110,-100,-102,-114,
  -120,-100,-104,-113,-109,-102,-101,-112,-112,-96,-106,-101,-99,-111,-110,-100,-93,-113,-107,-102,-103,-112,-113,-96,-105,-109,-117,-99,-100,-110,-108,-97,-95,-108,-111,-98,-104,-114,-109,-101,
  -118,-97,-103,-108,-107,-95,-99,-109,-110,-101,-105,-96,-94,-110,-108,-97,-102,-108,-112,-95,-104,-109,-109,-101,-92,-112,-106,-98,-101,-111,-116,-100,-103,-113,-107,-99,-98,-107,-105,-96,
  -104,-100,-109,-95,-97,-108,-106,-94,-102,-107,-111,-96,-100,-109,-105,-100,-94,-111,-108,-98,-103,-112,-107,-99,-99,-110,-110,-97,-101,-106,-106,-95,-117,-98,-98,-112,-85,-107,-104,-96,
  -103,-96,-99,-111,-107,-98,-101,-109,-114,-99,-97,-110,-105,-97,-100,-108,-108,-93,-96,-106,-84,-109,-103,-99,-98,-110,-106,-97,-101,-108,-113,-93,-95,-106,-104,-95,-84,-105,-102,-94,
  -98,-110,-106,-99,-101,-109,-110,-97,-97,-111,-104,-98,-99,-108,-107,-94,-92,-105,-103,-95,-100,-107,-108,-93,-96,-106,-105,-96,-101,-110,-109,-99,-90,-109,-102,-107,-115,-93,-99,-106,
  -104
];
const xTicksB = [0, 200, 400, 600, 800, 1000, 1200];
const yTicksB = [-150, -140, -130, -120, -110, -100, -90, -80];

// ---------- styling ----------
const SANS = '"Liberation Sans", Arial, Helvetica, sans-serif';
const SERIF = '"Liberation Serif", "Times New Roman", serif';
const ink = "#262626";
const frameGray = "#8c8c8c";
const gridGray = "#ececec";
const lineBlue = "#0072bd";

const svg = d3.select("#fig");

// Draws grid, inward ticks on all four sides, tick labels and the box.
function drawFrame(x, y, xt, yt, xPad, yPad) {
  const [xl, xr] = x.range();
  const [yb, yt0] = y.range();
  const g = svg.append("g");

  g.append("g").selectAll("line").data(xt).join("line")
    .attr("x1", d => x(d)).attr("x2", d => x(d))
    .attr("y1", yt0).attr("y2", yb)
    .attr("stroke", gridGray).attr("stroke-width", 1);
  g.append("g").selectAll("line").data(yt).join("line")
    .attr("x1", xl).attr("x2", xr)
    .attr("y1", d => y(d)).attr("y2", d => y(d))
    .attr("stroke", gridGray).attr("stroke-width", 1);

  const fmt = d => String(d);
  const style = sel => {
    sel.select(".domain").remove();
    sel.selectAll("line").attr("stroke", frameGray);
    sel.attr("font-family", SANS).attr("font-size", 16);
    sel.selectAll("text").attr("fill", ink);
  };
  g.append("g").attr("transform", `translate(0,${yb})`)
    .call(d3.axisBottom(x).tickValues(xt).tickFormat(fmt).tickSizeInner(-5).tickSizeOuter(0).tickPadding(xPad))
    .call(style);
  g.append("g").attr("transform", `translate(0,${yt0})`)
    .call(d3.axisTop(x).tickValues(xt).tickFormat("").tickSizeInner(-5).tickSizeOuter(0))
    .call(style);
  g.append("g").attr("transform", `translate(${xl},0)`)
    .call(d3.axisLeft(y).tickValues(yt).tickFormat(fmt).tickSizeInner(-5).tickSizeOuter(0).tickPadding(yPad))
    .call(style);
  g.append("g").attr("transform", `translate(${xr},0)`)
    .call(d3.axisRight(y).tickValues(yt).tickFormat("").tickSizeInner(-5).tickSizeOuter(0))
    .call(style);

  g.append("rect")
    .attr("x", xl + 0.5).attr("y", yt0 + 0.5)
    .attr("width", xr - xl).attr("height", yb - yt0)
    .attr("fill", "none").attr("stroke", frameGray).attr("stroke-width", 1);
  return g;
}

// Legend box with a line sample and a label built from [text, italic?] parts.
function drawLegend(x0, y0, w, h, parts, fontSize) {
  const g = svg.append("g");
  g.append("rect").attr("x", x0 + 0.5).attr("y", y0 + 0.5).attr("width", w).attr("height", h)
    .attr("fill", "#fff").attr("stroke", "#6e6e6e").attr("stroke-width", 1);
  const cy = y0 + h / 2;
  g.append("line").attr("x1", x0 + 6).attr("x2", x0 + 39).attr("y1", cy).attr("y2", cy)
    .attr("stroke", "#a9bfd3").attr("stroke-width", 1);
  const t = g.append("text").attr("x", x0 + 43).attr("y", cy + fontSize * 0.36)
    .attr("font-family", SANS).attr("font-size", fontSize).attr("fill", ink);
  parts.forEach(([s, it]) => {
    const sp = t.append("tspan").text(s);
    if (it) sp.attr("font-family", SERIF).attr("font-style", "italic");
  });
}

// ---------- panel (a) ----------
const xA = d3.scaleLinear().domain([-25, 5]).range([63, 468]);
const yA = d3.scaleLinear().domain([-45, -15]).range([422, 18]);
drawFrame(xA, yA, xTicksA, yTicksA, 9, 5);

const walk = [].concat(walkSE, walkCore1, walkCore2, walkBottom, walkEast, walkMid,
                       walkUpper1, walkTop, walkUpper2, walkDown, walkWest, walkCore3,
                       walkFine1, walkFine2, walkFine3, walkFine4, walkFine5, walkFine6,
                       walkFine7, walkFine8, walkFine9, walkFine10, walkFine11,
                       walkFine12, walkFine13, walkFine14, walkFine15, walkFine16,
                       walkFine17, walkFine18);
svg.append("path").datum(walk)
  .attr("d", d3.line().x(d => xA(d[0])).y(d => yA(d[1])))
  .attr("fill", "none").attr("stroke", lineBlue).attr("stroke-width", 1.45)
  .attr("stroke-linejoin", "round");

drawLegend(84, 388, 358, 21,
  [["Att. ("], ["\u03bc", true], [" = [-10.99, -31.22] as, "], ["\u03c3", true], [" = [1.75, 4.57] as)"]], 14.5);

svg.append("text").attr("x", 265.5).attr("y", 467).attr("text-anchor", "middle")
  .attr("font-family", SANS).attr("font-size", 16).attr("fill", ink).text("X Error [as]");
svg.append("text").attr("transform", "translate(28,220) rotate(-90)").attr("text-anchor", "middle")
  .attr("font-family", SANS).attr("font-size", 16).attr("fill", ink).text("Y Error [as]");

// ---------- panel (b) ----------
const xB = d3.scaleLinear().domain([0, 1250]).range([599, 1102]);
const yB = d3.scaleLinear().domain([-150, -80]).range([445, 52]);
drawFrame(xB, yB, xTicksB, yTicksB, 7, 5);

svg.append("clipPath").attr("id", "clipB").append("rect")
  .attr("x", 599).attr("y", 52).attr("width", 503).attr("height", 393);
svg.append("path").datum(rollError)
  .attr("clip-path", "url(#clipB)")
  .attr("d", d3.line().x((d, i) => xB(i * rollStep)).y(d => yB(d)))
  .attr("fill", "none").attr("stroke", lineBlue).attr("stroke-width", 1)
  .attr("stroke-linejoin", "round");

drawLegend(866, 380, 226, 21,
  [["\u03bc", true], [" = -110.90 as, "], ["\u03c3", true], [" = 9.00 as"]], 14.5);

const tl = svg.append("text").attr("x", 850).attr("y", 487).attr("text-anchor", "middle")
  .attr("font-family", SANS).attr("font-size", 16).attr("fill", ink);
tl.append("tspan").text("Time [s] (epoch = 37, t");
tl.append("tspan").attr("dy", 5).attr("font-size", 12).text("0");
tl.append("tspan").attr("dy", -5).text(" = 924218.524 s)");

svg.append("text").attr("transform", "translate(554,248.5) rotate(-90)").attr("text-anchor", "middle")
  .attr("font-family", SANS).attr("font-size", 16).attr("fill", ink).text("Roll Error [as]");

// ---------- sub-figure captions ----------
function caption(x, y, label, rest, width) {
  const t = svg.append("text").attr("x", x).attr("y", y)
    .attr("font-family", SERIF).attr("font-size", 23).attr("fill", "#111");
  if (label) t.append("tspan").attr("font-weight", "bold").text(label);
  t.append("tspan").text(rest);
  if (width) t.attr("textLength", width).attr("lengthAdjust", "spacingAndGlyphs");
  return t;
}
caption(86, 528, "(a)", " ASTERIA XACT ADCS", 314);
caption(119, 558, null, "Cross-Boresight [23]", 232);
caption(588, 558, "(b)", " ASTERIA XACT ADCS Roll Error [23]", 474);
</script>
</body>
</html>
